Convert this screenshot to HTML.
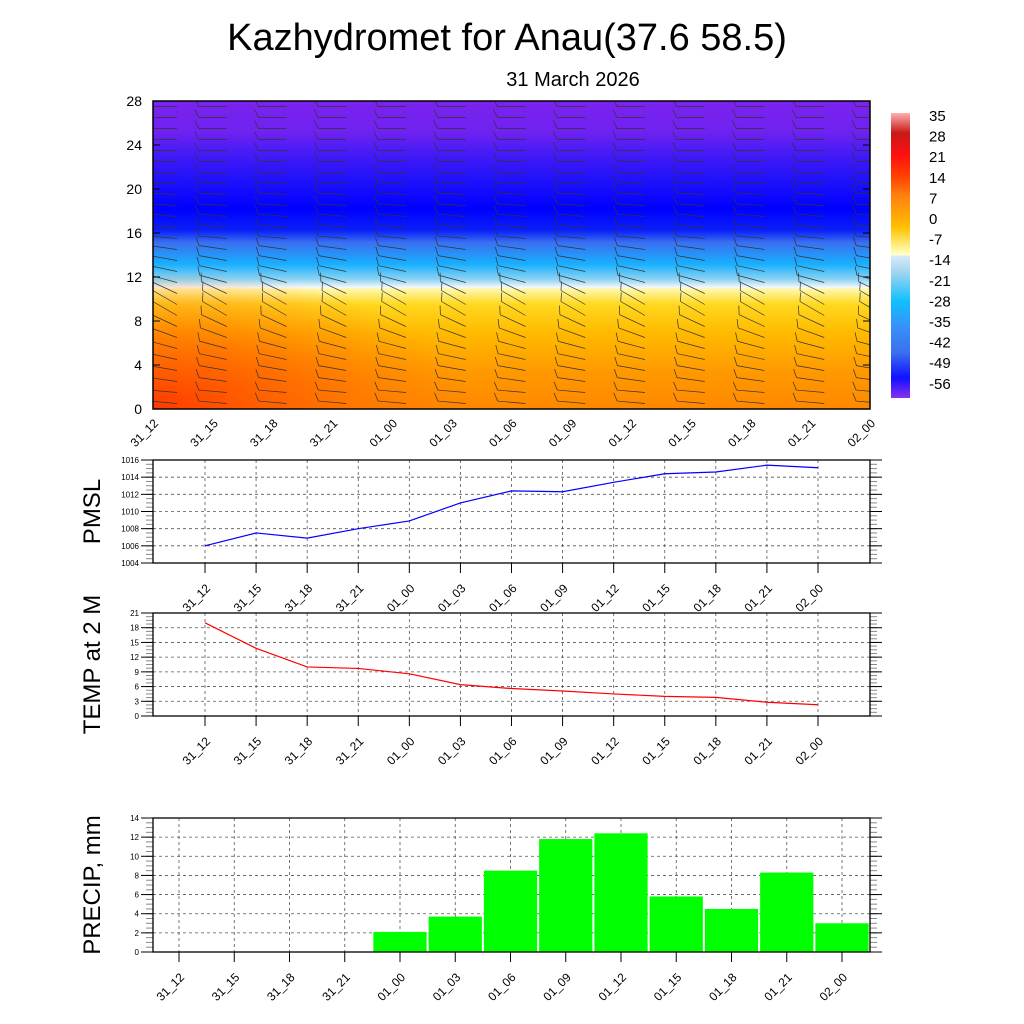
<!DOCTYPE html>
<html><head><meta charset="utf-8"><style>
body{margin:0;background:#fff;}
svg{display:block;font-family:"Liberation Sans",sans-serif;}
</style></head><body>
<svg id="s" width="1024" height="1024" viewBox="0 0 1024 1024">
<defs>
<linearGradient id="tg" x1="0" y1="0" x2="0" y2="1">
<stop offset="0" stop-color="#7b22ee"/><stop offset="0.1" stop-color="#7022f0"/>
<stop offset="0.16" stop-color="#4a1cf5"/><stop offset="0.27" stop-color="#1a10fc"/>
<stop offset="0.35" stop-color="#0000ff"/><stop offset="0.42" stop-color="#0a20f8"/>
<stop offset="0.46" stop-color="#3a70f0"/><stop offset="0.53" stop-color="#18b0ff"/>
<stop offset="0.58" stop-color="#90d4f4"/><stop offset="0.605" stop-color="#f4f8f8"/>
<stop offset="0.61" stop-color="#fff8b0"/><stop offset="0.66" stop-color="#ffd820"/>
<stop offset="0.75" stop-color="#ffbb00"/><stop offset="0.88" stop-color="#ff9900"/>
<stop offset="1" stop-color="#ff8800"/>
</linearGradient>
<radialGradient id="rg" cx="0" cy="1" r="0.45" fx="0" fy="1">
<stop offset="0" stop-color="#ff3000" stop-opacity="0.9"/><stop offset="0.5" stop-color="#ff5a00" stop-opacity="0.6"/><stop offset="1" stop-color="#ff7000" stop-opacity="0"/>
</radialGradient>
<linearGradient id="cb" x1="0" y1="0" x2="0" y2="1">
<stop offset="0" stop-color="#ffb0b0"/><stop offset="0.07" stop-color="#c81818"/>
<stop offset="0.15" stop-color="#ff1010"/><stop offset="0.22" stop-color="#ff4000"/>
<stop offset="0.29" stop-color="#ff8010"/><stop offset="0.40" stop-color="#ffc000"/>
<stop offset="0.48" stop-color="#fff8a0"/><stop offset="0.5" stop-color="#ffffd8"/>
<stop offset="0.5" stop-color="#d8ecf8"/><stop offset="0.56" stop-color="#a0d4f0"/>
<stop offset="0.66" stop-color="#10c0ff"/><stop offset="0.75" stop-color="#3890f8"/>
<stop offset="0.84" stop-color="#3a70f0"/><stop offset="0.93" stop-color="#1010ff"/>
<stop offset="1" stop-color="#8a30f0"/>
</linearGradient>
<clipPath id="tc"><rect x="153" y="101" width="717" height="308"/></clipPath>
</defs>
<text x="507" y="50" font-size="38" text-anchor="middle">Kazhydromet for Anau(37.6 58.5)</text>
<text x="573" y="86" font-size="20" text-anchor="middle">31 March 2026</text>
<g>
<rect x="153" y="101" width="717" height="308" fill="url(#tg)"/>
<rect x="153" y="101" width="717" height="308" fill="url(#rg)"/>
<g id="barbs" clip-path="url(#tc)"></g>
<g id="topax"></g>
<rect x="153" y="101" width="717" height="308" fill="none" stroke="#000" stroke-width="1.5"/>
</g>
<g>
<rect x="891" y="113" width="19" height="285" fill="url(#cb)"/>
<g id="cbl"></g>
</g>
<g id="pmsl"></g>
<g id="temp"></g>
<g id="precip"></g>
</svg>
<script>
const times = ["31_12","31_15","31_18","31_21","01_00","01_03","01_06","01_09","01_12","01_15","01_18","01_21","02_00"];
const pmslValues = [1006,1007.5,1006.9,1008,1008.9,1011,1012.4,1012.3,1013.4,1014.4,1014.6,1015.4,1015.1];
const tempValues = [19,13.8,10,9.7,8.6,6.4,5.6,5.1,4.5,4,3.8,2.8,2.3];
const precipValues = [0,0.05,0.05,0,2.1,3.7,8.5,11.8,12.4,5.8,4.5,8.3,3.0];
const heightTicks = [0,4,8,12,16,20,24,28];
const colorbarLabels = ["35","28","21","14","7","0","-7","-14","-21","-28","-35","-42","-49","-56"];
const barbTilt = [5,5,8,10,12,15,20,25,30,30,25,15,12,10,8,5,5,5,3,3,0,0,0,0,0,0,0,0];

const NS="http://www.w3.org/2000/svg";
function mk(p,t,a){const e=document.createElementNS(NS,t);for(const k in a)e.setAttribute(k,a[k]);p.appendChild(e);return e;}
function txt(p,x,y,s,fs,anc,rot){const e=mk(p,'text',{x:x,y:y,'font-size':fs,'text-anchor':anc||'middle'});if(rot)e.setAttribute('transform',`rotate(${rot} ${x} ${y})`);e.textContent=s;return e;}

const topAx=document.getElementById('topax');
const tx=i=>153+i*(717/12), ty=h=>409-h*(308/28);
heightTicks.forEach(h=>{
 const t=txt(topAx,142,ty(h)+5,String(h),14,'end');
 
 
 mk(topAx,'line',{x1:153,x2:160,y1:ty(h),y2:ty(h),stroke:'#000'});
 mk(topAx,'line',{x1:863,x2:870,y1:ty(h),y2:ty(h),stroke:'#000'});
});
times.forEach((s,i)=>{
 const t=txt(topAx,tx(i)+6,424,s,12,'end',-45);
 
 
});
const bg=document.getElementById('barbs');
times.forEach((s,i)=>{
 for(let h=0;h<28;h++){
  const a=barbTilt[h]*Math.PI/180, x0=tx(i)+(i==0?24:14), y0=ty(h+0.5);
  const L=28;
  const ex=x0-L*Math.cos(a), ey=y0-L*Math.sin(a);
  const ln=mk(bg,'line',{x1:x0,y1:y0,x2:ex,y2:ey,stroke:'#333','stroke-width':0.7});
  
  
  const b=a+1.1;
  mk(bg,'line',{x1:ex,y1:ey,x2:ex-9*Math.cos(b),y2:ey-9*Math.sin(b),stroke:'#333','stroke-width':0.7});
 }
});
const cbl=document.getElementById('cbl');
colorbarLabels.forEach((s,i)=>{
 const t=txt(cbl,929,121+i*20.6,s,15,'start');
 
 
});

function lineChart(id,top,bot,ymin,ymax,step,vals,color,title,names,bars){
 const g=document.getElementById(id);
 const L=153,R=870;
 const x0=bars?179:205, dx=bars?(842-179)/12:(818-205)/12;
 const X=i=>x0+i*dx, Y=v=>bot-(v-ymin)/(ymax-ymin)*(bot-top);
 for(let v=ymin;v<=ymax+1e-9;v+=step/4){
  mk(g,'line',{x1:L-7,x2:L,y1:Y(v),y2:Y(v),stroke:'#888'});
  mk(g,'line',{x1:R,x2:R+7,y1:Y(v),y2:Y(v),stroke:'#888'});
 }
 for(let v=ymin;v<=ymax+1e-9;v+=step){
  mk(g,'line',{x1:L,x2:R,y1:Y(v),y2:Y(v),stroke:'#555','stroke-dasharray':'3,3','stroke-width':0.8});
  const t=txt(g,L-14,Y(v)+3,String(v),8,'end');
  
  
  mk(g,'line',{x1:L-12,x2:L,y1:Y(v),y2:Y(v),stroke:'#000'});
  mk(g,'line',{x1:R,x2:R+12,y1:Y(v),y2:Y(v),stroke:'#000'});
 }
 times.forEach((s,i)=>{
  mk(g,'line',{x1:X(i),x2:X(i),y1:top,y2:bot,stroke:'#555','stroke-dasharray':'3,3','stroke-width':0.8});
  mk(g,'line',{x1:X(i),x2:X(i),y1:bot,y2:bot+10,stroke:'#000'});
  const t=txt(g,X(i)+6,bot+26,s,12,'end',-45);
  
  
 });
 if(bars){
  vals.forEach((v,i)=>{
   const r=mk(g,'rect',{x:X(i)-dx/2+1,y:Y(v),width:dx-2,height:Math.max(0,bot-Y(v)),fill:'#00ff00'});
   
   
  });
 } else {
  const p=mk(g,'polyline',{points:vals.map((v,i)=>X(i)+','+Y(v)).join(' '),fill:'none',stroke:color,'stroke-width':1.2});
  
  
 }
 mk(g,'rect',{x:L,y:top,width:R-L,height:bot-top,fill:'none',stroke:'#000','stroke-width':1.3});
 const t=txt(g,100,(top+bot)/2,title,24,'middle',-90);
 
 
}
lineChart('pmsl',460,563,1004,1016,2,pmslValues,'#0000ff','PMSL','pmsl',false);
lineChart('temp',613,716,0,21,3,tempValues,'#ff0000','TEMP at 2 M','temp',false);
lineChart('precip',818,952,0,14,2,precipValues,'#00ff00','PRECIP, mm','precip',true);
</script>
</body></html>
